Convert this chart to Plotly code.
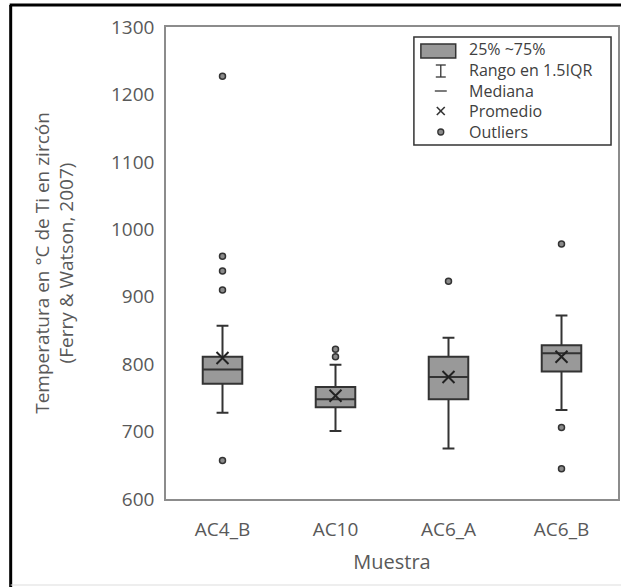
import plotly.graph_objects as go

# ---------------- data ----------------
categories = ["AC4_B", "AC10", "AC6_A", "AC6_B"]
q1_vals = [771, 736, 748, 789]
median_vals = [792, 748, 781, 816]
q3_vals = [811, 766, 811, 828]
lower_whisker = [728, 701, 675, 732]
upper_whisker = [857, 799, 839, 872]
mean_vals = [809, 753, 781, 811]
outlier_cats = ["AC4_B"] * 5 + ["AC10"] * 2 + ["AC6_A"] + ["AC6_B"] * 3
outlier_vals = [1227, 960, 938, 910, 657, 822, 811, 923, 978, 706, 645]

legend_labels = ["25% ~75%", "Rango en 1.5IQR", "Mediana", "Promedio", "Outliers"]

# ---------------- layout geometry ----------------
W, H = 621, 587
ML, MR, MT, MB = 166, 1, 27, 88
PW, PH = W - ML - MR, H - MT - MB

def px(x):
    return (x - ML) / PW

def py(y):
    return (H - MB - y) / PH

FONT = "Open Sans"
TXT = "#595959"
DARK = "#333333"
FILL = "#999999"

fig = go.Figure()

fig.add_trace(go.Box(
    x=categories, q1=q1_vals, median=median_vals, q3=q3_vals,
    lowerfence=lower_whisker, upperfence=upper_whisker,
    boxpoints=False, fillcolor=FILL,
    line=dict(color=DARK, width=2), whiskerwidth=0.3,
    showlegend=False, name="Temperatura",
))

fig.add_trace(go.Scatter(
    x=categories, y=mean_vals, mode="markers",
    marker=dict(symbol="x-thin", size=12, line=dict(color="#222222", width=2)),
    showlegend=False, name="Promedio",
))

fig.add_trace(go.Scatter(
    x=outlier_cats, y=outlier_vals, mode="markers",
    marker=dict(symbol="circle", size=6, color="#8a8a8a", line=dict(color="#333333", width=1.5)),
    showlegend=False, name="Outliers",
))

shapes = []
# outer frame (black border of original figure)
shapes.append(dict(type="line", xref="paper", yref="paper", x0=px(10), x1=px(10), y0=py(H + 5), y1=py(5),
                   line=dict(color="black", width=3)))
shapes.append(dict(type="line", xref="paper", yref="paper", x0=px(9), x1=px(W + 5), y0=py(5), y1=py(5),
                   line=dict(color="black", width=3)))
shapes.append(dict(type="line", xref="paper", yref="paper", x0=px(10), x1=px(W + 5), y0=py(585), y1=py(585),
                   line=dict(color="#dddddd", width=1)))

# manual legend
shapes.append(dict(type="rect", xref="paper", yref="paper", x0=px(415), x1=px(613), y0=py(145), y1=py(37),
                   line=dict(color=DARK, width=1.5), fillcolor="white"))
shapes.append(dict(type="rect", xref="paper", yref="paper", x0=px(422), x1=px(457), y0=py(58), y1=py(44),
                   line=dict(color=DARK, width=1.5), fillcolor=FILL))
cx = 442
# whisker glyph
shapes.append(dict(type="line", xref="paper", yref="paper", x0=px(cx), x1=px(cx), y0=py(77), y1=py(65),
                   line=dict(color=DARK, width=1.3)))
for yy in (65, 77):
    shapes.append(dict(type="line", xref="paper", yref="paper", x0=px(cx - 5), x1=px(cx + 5), y0=py(yy), y1=py(yy),
                       line=dict(color=DARK, width=1.3)))
# median glyph
shapes.append(dict(type="line", xref="paper", yref="paper", x0=px(cx - 6), x1=px(cx + 6), y0=py(91), y1=py(91),
                   line=dict(color=DARK, width=1.3)))
# mean glyph
shapes.append(dict(type="line", xref="paper", yref="paper", x0=px(cx - 4), x1=px(cx + 4), y0=py(107), y1=py(115),
                   line=dict(color=DARK, width=1.6)))
shapes.append(dict(type="line", xref="paper", yref="paper", x0=px(cx - 4), x1=px(cx + 4), y0=py(115), y1=py(107),
                   line=dict(color=DARK, width=1.6)))
# outlier glyph
shapes.append(dict(type="circle", xref="paper", yref="paper", x0=px(cx - 3), x1=px(cx + 3), y0=py(135), y1=py(129),
                   line=dict(color=DARK, width=1.3), fillcolor="#8a8a8a"))

annotations = [dict(
    xref="paper", yref="paper", x=px(468), y=py(91), text="<br>".join(legend_labels),
    showarrow=False, xanchor="left", yanchor="middle", align="left",
    font=dict(family=FONT, size=16, color="#404040"),
)]

fig.update_layout(
    width=W, height=H,
    margin=dict(l=ML, r=MR, t=MT, b=MB, pad=0),
    paper_bgcolor="white", plot_bgcolor="white",
    boxgap=0.5,
    font=dict(family=FONT, color=TXT),
    shapes=shapes, annotations=annotations,
    showlegend=False,
)

fig.update_xaxes(
    type="category", categoryorder="array", categoryarray=categories,
    range=[-0.5, 3.5], showgrid=False, zeroline=False,
    showline=True, mirror=True, linecolor="#8c8c8c", linewidth=1.5,
    ticks="", tickfont=dict(family=FONT, size=19, color=TXT), ticklabelstandoff=12,
    title=dict(text="Muestra", font=dict(family=FONT, size=20, color=TXT), standoff=14),
)
fig.update_yaxes(
    range=[600, 1300], dtick=100, tick0=600, showgrid=False, zeroline=False,
    showline=True, mirror=True, linecolor="#8c8c8c", linewidth=1.5,
    ticks="", tickfont=dict(family=FONT, size=19, color=TXT), ticklabelstandoff=6,
    title=dict(text="Temperatura en °C de Ti en zircón<br>(Ferry & Watson, 2007)",
               font=dict(family=FONT, size=19, color=TXT), standoff=32),
)

fig.write_html("out.html")
